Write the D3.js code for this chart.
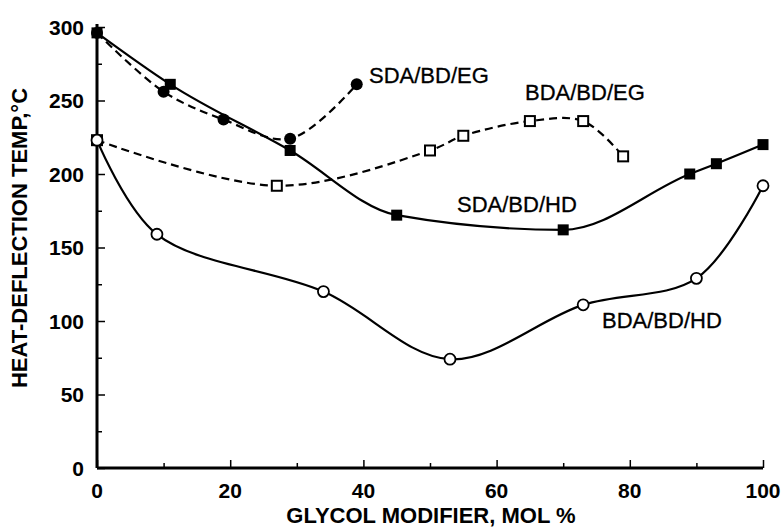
<!DOCTYPE html>
<html>
<head>
<meta charset="utf-8">
<script src="https://cdn.jsdelivr.net/npm/d3@7"></script>
<style>
  body { margin: 0; background: #fff; }
  text { font-family: "Liberation Sans", Arial, sans-serif; fill: #000; }
</style>
</head>
<body>
<script>
// data
var sdaEgX = [0, 10, 19, 29, 39];
var sdaEgY = [296, 256, 237, 224, 261];

var sdaHdX = [0, 11, 29, 45, 70, 89, 93, 100];
var sdaHdY = [296, 261, 216, 172, 162, 200, 207, 220];

var bdaEgX = [0, 27, 50, 55, 65, 73, 79];
var bdaEgY = [223, 192, 216, 226, 236, 236, 212];

var bdaHdX = [0, 9, 34, 53, 73, 90, 100];
var bdaHdY = [223, 159, 120, 74, 111, 129, 192];

var xTicks = [0, 20, 40, 60, 80, 100];
var yTicks = [0, 50, 100, 150, 200, 250, 300];

var W = 784, H = 529;
var margin = { top: 27, right: 21, bottom: 61, left: 97 };
var w = W - margin.left - margin.right,
    h = H - margin.top - margin.bottom;

var svg = d3.select("body").append("svg")
    .attr("width", W)
    .attr("height", H);

var g = svg.append("g")
    .attr("transform", "translate(" + margin.left + "," + margin.top + ")");

var x = d3.scaleLinear().domain([0, 100]).range([0, w]);
var y = d3.scaleLinear().domain([0, 300]).range([h, 0]);

function pts(xs, ys) {
    return xs.map(function (d, i) { return { x: d, y: ys[i] }; });
}

// axes: ticks point inward
var xAxis = g.append("g")
    .attr("transform", "translate(0," + h + ")")
    .call(d3.axisBottom(x).tickValues(d3.range(0, 101, 10)).tickSize(-5).tickFormat(""));
xAxis.selectAll(".tick line").attr("stroke-width", 1.5)
    .attr("y2", function (d) { return d % 20 === 0 ? -8 : -5; });

var yAxis = g.append("g")
    .call(d3.axisLeft(y).tickValues(d3.range(0, 301, 25)).tickSize(-5).tickFormat(""));
yAxis.selectAll(".tick line").attr("stroke-width", 1.5)
    .attr("x2", function (d) { return d % 50 === 0 ? 8 : 5; });

g.selectAll(".domain").attr("stroke-width", 3);
yAxis.select(".domain").attr("d", "M0," + (h) + "V-3");
xAxis.select(".domain").attr("d", "M0,0H" + w);

g.selectAll(".xlab")
    .data(xTicks)
    .enter().append("text")
    .attr("x", function (d) { return x(d); })
    .attr("y", h + 30)
    .attr("text-anchor", "middle")
    .style("font-size", "21px")
    .style("font-weight", "bold")
    .text(function (d) { return d; });

g.selectAll(".ylab")
    .data(yTicks)
    .enter().append("text")
    .attr("x", -13)
    .attr("y", function (d) { return y(d) + 7.5; })
    .attr("text-anchor", "end")
    .style("font-size", "21px")
    .style("font-weight", "bold")
    .text(function (d) { return d; });

svg.append("text")
    .attr("x", 431)
    .attr("y", 523)
    .attr("text-anchor", "middle")
    .style("font-size", "22px")
    .style("font-weight", "bold")
    .text("GLYCOL MODIFIER, MOL %");

svg.append("text")
    .attr("transform", "translate(27,238) rotate(-90)")
    .attr("text-anchor", "middle")
    .style("font-size", "22px")
    .style("font-weight", "bold")
    .text("HEAT-DEFLECTION TEMP,\u00B0C");

var line = d3.line()
    .x(function (d) { return x(d.x); })
    .y(function (d) { return y(d.y); })
    .curve(d3.curveCatmullRom.alpha(0.5));

var lineMono = d3.line()
    .x(function (d) { return x(d.x); })
    .y(function (d) { return y(d.y); })
    .curve(d3.curveMonotoneX);

function drawLine(data, dashed, gen) {
    g.append("path")
        .datum(data)
        .attr("fill", "none")
        .attr("stroke", "#000")
        .attr("stroke-width", 2.2)
        .attr("stroke-dasharray", dashed ? "8,5" : null)
        .attr("d", gen || line);
}

var sdaEg = pts(sdaEgX, sdaEgY),
    sdaHd = pts(sdaHdX, sdaHdY),
    bdaEg = pts(bdaEgX, bdaEgY),
    bdaHd = pts(bdaHdX, bdaHdY);

drawLine(sdaHd, false, lineMono);
drawLine(bdaHd, false);
drawLine(sdaEg, true);
drawLine(bdaEg, true);

// markers
g.selectAll(".sqf").data(sdaHd).enter().append("rect")
    .attr("x", function (d) { return x(d.x) - 5.5; })
    .attr("y", function (d) { return y(d.y) - 5.5; })
    .attr("width", 11).attr("height", 11)
    .attr("fill", "#000");

g.selectAll(".cf").data(sdaEg).enter().append("circle")
    .attr("cx", function (d) { return x(d.x); })
    .attr("cy", function (d) { return y(d.y); })
    .attr("r", 6)
    .attr("fill", "#000");

g.selectAll(".sqo").data(bdaEg).enter().append("rect")
    .attr("x", function (d) { return x(d.x) - 5; })
    .attr("y", function (d) { return y(d.y) - 5; })
    .attr("width", 10).attr("height", 10)
    .attr("fill", "#fff")
    .attr("stroke", "#000")
    .attr("stroke-width", 2);

g.selectAll(".co").data(bdaHd).enter().append("circle")
    .attr("cx", function (d) { return x(d.x); })
    .attr("cy", function (d) { return y(d.y); })
    .attr("r", 5.5)
    .attr("fill", "#fff")
    .attr("stroke", "#000")
    .attr("stroke-width", 1.8);

// series labels
var labels = [
    { t: "SDA/BD/EG", x: 369, y: 83 },
    { t: "BDA/BD/EG", x: 525, y: 100 },
    { t: "SDA/BD/HD", x: 457, y: 212 },
    { t: "BDA/BD/HD", x: 602, y: 328 }
];
svg.selectAll(".slab").data(labels).enter().append("text")
    .attr("x", function (d) { return d.x; })
    .attr("y", function (d) { return d.y; })
    .style("font-size", "22px")
    .style("stroke", "#000")
    .style("stroke-width", 0.3)
    .text(function (d) { return d.t; });
</script>
</body>
</html>
